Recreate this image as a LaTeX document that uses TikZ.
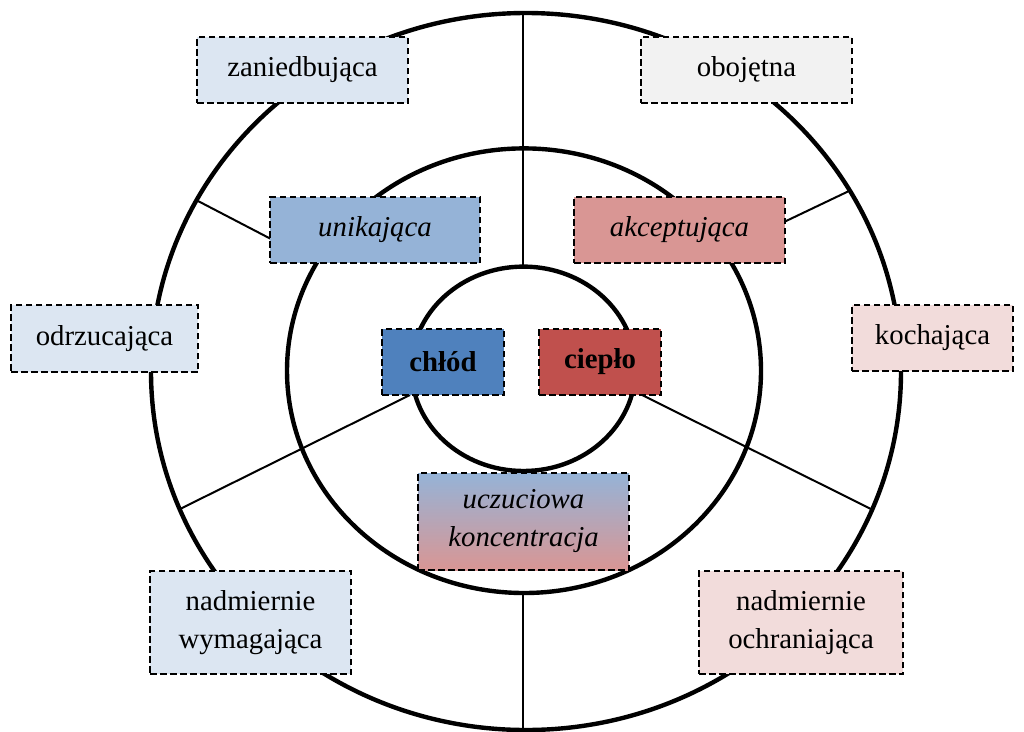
\documentclass[tikz,border=0pt]{standalone}
\usepackage{fontspec}
\setmainfont{Liberation Serif}
\definecolor{coldD}{HTML}{4F81BD}
\definecolor{coldM}{HTML}{95B3D7}
\definecolor{coldL}{HTML}{DCE6F2}
\definecolor{warmD}{HTML}{C0504D}
\definecolor{warmM}{HTML}{D99694}
\definecolor{warmL}{HTML}{F2DCDB}
\definecolor{neutL}{HTML}{F2F2F2}
\begin{document}
\begin{tikzpicture}[x=1pt,y=-1pt,
  ring/.style={line width=4.4pt},
  spoke/.style={line width=2pt},
  box/.style={draw=black, line width=2pt, dash pattern=on 6.5pt off 3.5pt,
    inner sep=0pt, font=\fontsize{28.8}{38}\selectfont, align=center}]
\useasboundingbox (0,0) rectangle (1024,731);
% rings
\draw[ring] (526,371.5) ellipse [x radius=375pt, y radius=358.5pt];
\draw[ring] (524,370.7) ellipse [x radius=237pt, y radius=222.3pt];
\draw[ring] (523.5,368.8) ellipse [x radius=112pt, y radius=102.2pt];
% spoke end points
\coordinate (oT) at (523,13);
\coordinate (iT) at (523,267);
\coordinate (mB) at (523,593);
\coordinate (oB) at (523,731);
\coordinate (oUL) at (198,201);
\coordinate (bUL) at (271,239);
\coordinate (bUR) at (784,222);
\coordinate (oUR) at (849,191);
\coordinate (iLL) at (410,395);
\coordinate (oLL) at (180,509);
\coordinate (iLR) at (642,395);
\coordinate (oLR) at (873,510);
\draw[spoke] (oT) -- (iT);
\draw[spoke] (mB) -- (oB);
\draw[spoke] (oUL) -- (bUL);
\draw[spoke] (bUR) -- (oUR);
\draw[spoke] (iLL) -- (oLL);
\draw[spoke] (iLR) -- (oLR);
% boxes
\node[box, fill=coldL, minimum width=211pt, minimum height=66pt] (zan) at (302.5,70) {zaniedbująca};
\node[box, fill=neutL, minimum width=211pt, minimum height=66pt] (obo) at (746.5,70) {obojętna};
\node[box, fill=coldM, minimum width=210pt, minimum height=66pt] (uni) at (375,230) {\itshape unikająca};
\node[box, fill=warmM, minimum width=211pt, minimum height=66pt] (akc) at (679.5,230) {\itshape akceptująca};
\node[box, fill=coldL, minimum width=187pt, minimum height=67pt] (odr) at (104.5,338.5) {odrzucająca};
\node[box, fill=warmL, minimum width=161pt, minimum height=66pt] (koc) at (932.5,338) {kochająca};
\node[box, fill=coldD, minimum width=122pt, minimum height=66pt] (chl) at (443,362) {\bfseries chłód};
\node[box, fill=warmD, minimum width=122pt, minimum height=66pt] (cie) at (600,362) {\bfseries ciepło};
\node[box, top color=coldM, bottom color=warmM, minimum width=211pt, minimum height=97pt] (ucz) at (523.5,521.5) {\itshape uczuciowa\\\itshape koncentracja};
\node[box, fill=coldL, minimum width=201pt, minimum height=103pt] (wym) at (250.5,622.5) {nadmiernie\\wymagająca};
\node[box, fill=warmL, minimum width=204pt, minimum height=103pt] (och) at (801,622.5) {nadmiernie\\ochraniająca};
\end{tikzpicture}
\end{document}
